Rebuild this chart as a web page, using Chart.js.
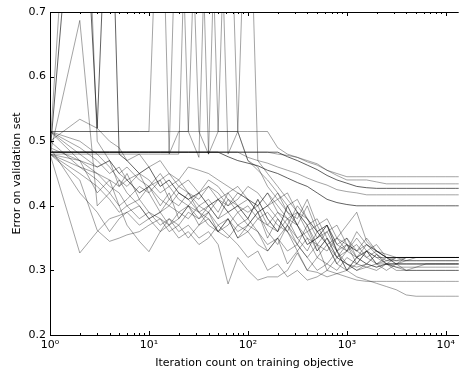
<!DOCTYPE html>
<html>
<head>
<meta charset="utf-8">
<script src="https://cdn.jsdelivr.net/npm/chart.js@4/dist/chart.umd.min.js"></script>
<style>
  body { margin: 0; background: #fff; }
  canvas { display: block; }
</style>
</head>
<body>
<canvas id="runs-chart" width="459" height="370"></canvas>
<script>
// iteration counts where every run was evaluated
const iterations = [1, 2, 3, 4, 5, 6, 8, 10, 13, 16,
  20, 25, 32, 40, 50, 63, 79, 100, 126, 158,
  200, 251, 316, 398, 501, 631, 794, 1000, 1259, 1585,
  1995, 2512, 3162, 3981, 5012, 6310, 7943, 10000, 12589, 15000];

// runs that stay high (plateau around 0.40 - 0.45)
const runHighA = [0.515, 0.515, 0.515, 0.515, 0.515, 0.515, 0.515, 0.515, 0.515, 0.515,
  0.515, 0.515, 0.515, 0.515, 0.515, 0.515, 0.515, 0.515, 0.515, 0.515,
  0.49, 0.48, 0.475, 0.47, 0.465, 0.455, 0.45, 0.445, 0.445, 0.445,
  0.445, 0.445, 0.445, 0.445, 0.445, 0.445, 0.445, 0.445, 0.445, 0.445];
const runHighB = [0.483, 0.483, 0.483, 0.483, 0.483, 0.483, 0.483, 0.483, 0.483, 0.483,
  0.483, 0.483, 0.483, 0.483, 0.483, 0.483, 0.483, 0.483, 0.483, 0.483,
  0.48, 0.478, 0.475, 0.468, 0.463, 0.455, 0.447, 0.44, 0.44, 0.44,
  0.437, 0.434, 0.434, 0.434, 0.434, 0.434, 0.434, 0.434, 0.434, 0.434];
const runHighC = [0.483, 0.483, 0.483, 0.483, 0.483, 0.483, 0.483, 0.483, 0.483, 0.483,
  0.483, 0.483, 0.483, 0.483, 0.483, 0.483, 0.483, 0.483, 0.483, 0.483,
  0.483, 0.476, 0.47, 0.463, 0.456, 0.447, 0.44, 0.435, 0.43, 0.428,
  0.427, 0.427, 0.427, 0.427, 0.427, 0.427, 0.427, 0.427, 0.427, 0.427];
const runHighD = [0.483, 0.483, 0.483, 0.483, 0.483, 0.483, 0.483, 0.483, 0.483, 0.483,
  0.483, 0.483, 0.483, 0.483, 0.483, 0.483, 0.483, 0.475, 0.47, 0.466,
  0.46, 0.455, 0.45, 0.443, 0.437, 0.432, 0.425, 0.422, 0.42, 0.417,
  0.417, 0.417, 0.417, 0.417, 0.417, 0.417, 0.417, 0.417, 0.417, 0.417];
const runHighE = [0.483, 0.483, 0.483, 0.483, 0.483, 0.483, 0.483, 0.483, 0.483, 0.483,
  0.483, 0.483, 0.483, 0.483, 0.483, 0.476, 0.47, 0.466, 0.462, 0.455,
  0.45, 0.443, 0.436, 0.43, 0.42, 0.41, 0.405, 0.402, 0.40, 0.40,
  0.40, 0.40, 0.40, 0.40, 0.40, 0.40, 0.40, 0.40, 0.40, 0.40];

// runs with early blow-ups above the plotted range
const runSpikeA = [0.49, 1.2, 0.50, 0.47, 0.45, 0.44, 0.42, 0.43, 0.41, 0.40,
  0.39, 0.40, 0.38, 0.39, 0.37, 0.38, 0.36, 0.37, 0.39, 0.36,
  0.34, 0.37, 0.35, 0.33, 0.36, 0.34, 0.31, 0.33, 0.32, 0.34,
  0.325, 0.315, 0.32, 0.32, 0.32, 0.32, 0.32, 0.32, 0.32, 0.32];
const runSpikeB = [0.48, 1.03, 0.52, 1.0, 0.48, 0.47, 0.45, 0.46, 0.43, 0.44,
  0.42, 0.41, 0.42, 0.40, 0.41, 0.39, 0.40, 0.38, 0.41, 0.38,
  0.36, 0.40, 0.37, 0.34, 0.35, 0.37, 0.33, 0.30, 0.32, 0.31,
  0.325, 0.31, 0.31, 0.31, 0.31, 0.31, 0.31, 0.31, 0.31, 0.31];
const runSpikeC = [0.515, 0.515, 0.515, 0.515, 0.515, 0.515, 0.515, 0.515, 1.0, 0.48,
  0.515, 0.515, 0.475, 1.0, 0.515, 0.515, 0.515, 0.47, 0.46, 0.43,
  0.41, 0.42, 0.39, 0.37, 0.38, 0.35, 0.33, 0.34, 0.32, 0.33,
  0.32, 0.32, 0.32, 0.32, 0.32, 0.32, 0.32, 0.32, 0.32, 0.32];
const runSpikeD = [0.483, 0.483, 0.483, 0.483, 0.483, 0.483, 0.483, 0.483, 0.483, 0.483,
  1.0, 0.515, 1.0, 0.48, 0.515, 1.0, 0.515, 0.47, 0.455, 0.44,
  0.42, 0.40, 0.41, 0.38, 0.36, 0.34, 0.35, 0.33, 0.34, 0.32,
  0.31, 0.315, 0.315, 0.315, 0.315, 0.315, 0.315, 0.315, 0.315, 0.315];
const runSpikeE = [0.48, 0.48, 0.48, 0.48, 0.48, 0.48, 0.48, 0.48, 0.48, 0.48,
  0.48, 1.0, 0.515, 0.48, 1.0, 0.48, 0.515, 1.0, 0.47, 0.45,
  0.43, 0.41, 0.39, 0.36, 0.37, 0.34, 0.32, 0.33, 0.35, 0.33,
  0.31, 0.32, 0.32, 0.32, 0.32, 0.32, 0.32, 0.32, 0.32, 0.32];

// runs that settle near 0.26 - 0.33
const runLowA = [0.48, 0.327, 0.36, 0.38, 0.385, 0.39, 0.40, 0.38, 0.39, 0.41,
  0.40, 0.42, 0.39, 0.40, 0.38, 0.41, 0.39, 0.37, 0.39, 0.35,
  0.38, 0.36, 0.34, 0.37, 0.33, 0.35, 0.32, 0.34, 0.31, 0.33,
  0.32, 0.31, 0.32, 0.32, 0.32, 0.32, 0.32, 0.32, 0.32, 0.32];
const runLowB = [0.48, 0.687, 0.40, 0.42, 0.44, 0.43, 0.45, 0.44, 0.42, 0.43,
  0.41, 0.40, 0.42, 0.44, 0.43, 0.41, 0.40, 0.39, 0.40, 0.37,
  0.39, 0.38, 0.35, 0.36, 0.33, 0.35, 0.32, 0.31, 0.30, 0.305,
  0.30, 0.31, 0.30, 0.30, 0.30, 0.30, 0.30, 0.30, 0.30, 0.30];
const runLowC = [0.50, 0.534, 0.52, 0.50, 0.49, 0.47, 0.48, 0.46, 0.47, 0.45,
  0.43, 0.44, 0.42, 0.43, 0.41, 0.42, 0.40, 0.41, 0.39, 0.40,
  0.42, 0.39, 0.37, 0.40, 0.36, 0.37, 0.34, 0.33, 0.36, 0.34,
  0.33, 0.32, 0.32, 0.32, 0.32, 0.32, 0.32, 0.32, 0.32, 0.32];
const runLowD = [0.515, 0.47, 0.42, 0.44, 0.40, 0.41, 0.43, 0.42, 0.39, 0.37,
  0.38, 0.40, 0.39, 0.37, 0.36, 0.38, 0.35, 0.36, 0.34, 0.33,
  0.35, 0.31, 0.33, 0.30, 0.32, 0.34, 0.31, 0.30, 0.31, 0.305,
  0.31, 0.31, 0.31, 0.31, 0.31, 0.31, 0.31, 0.31, 0.31, 0.31];
const runLowE = [0.48, 0.44, 0.362, 0.345, 0.35, 0.355, 0.36, 0.37, 0.38, 0.37,
  0.39, 0.38, 0.40, 0.39, 0.41, 0.40, 0.42, 0.41, 0.39, 0.40,
  0.38, 0.36, 0.39, 0.38, 0.35, 0.36, 0.37, 0.34, 0.33, 0.35,
  0.33, 0.32, 0.315, 0.32, 0.32, 0.32, 0.32, 0.32, 0.32, 0.32];
const runLowF = [0.49, 0.42, 0.39, 0.36, 0.38, 0.39, 0.37, 0.38, 0.36, 0.37,
  0.35, 0.36, 0.34, 0.35, 0.37, 0.355, 0.34, 0.32, 0.33, 0.30,
  0.31, 0.29, 0.30, 0.285, 0.29, 0.30, 0.295, 0.30, 0.29, 0.285,
  0.28, 0.275, 0.27, 0.262, 0.26, 0.26, 0.26, 0.26, 0.26, 0.26];
const runLowG = [0.48, 0.45, 0.43, 0.41, 0.39, 0.40, 0.38, 0.39, 0.37, 0.38,
  0.36, 0.37, 0.35, 0.36, 0.34, 0.279, 0.32, 0.30, 0.285, 0.29,
  0.29, 0.30, 0.327, 0.30, 0.297, 0.29, 0.295, 0.29, 0.285, 0.283,
  0.283, 0.283, 0.283, 0.283, 0.283, 0.283, 0.283, 0.283, 0.283, 0.283];
const runLowH = [0.50, 0.46, 0.44, 0.42, 0.40, 0.37, 0.345, 0.329, 0.36, 0.38,
  0.37, 0.39, 0.38, 0.40, 0.38, 0.39, 0.37, 0.38, 0.36, 0.33,
  0.35, 0.37, 0.34, 0.32, 0.34, 0.30, 0.32, 0.31, 0.305, 0.31,
  0.305, 0.31, 0.305, 0.305, 0.305, 0.305, 0.305, 0.305, 0.305, 0.305];
const runLowI = [0.515, 0.49, 0.47, 0.45, 0.46, 0.44, 0.45, 0.42, 0.44, 0.41,
  0.43, 0.42, 0.40, 0.41, 0.39, 0.42, 0.43, 0.41, 0.40, 0.42,
  0.39, 0.37, 0.40, 0.38, 0.36, 0.37, 0.34, 0.35, 0.32, 0.33,
  0.34, 0.32, 0.32, 0.315, 0.315, 0.315, 0.315, 0.315, 0.315, 0.315];
const runLowJ = [0.48, 0.47, 0.46, 0.47, 0.45, 0.46, 0.44, 0.43, 0.45, 0.43,
  0.44, 0.42, 0.41, 0.43, 0.42, 0.40, 0.41, 0.43, 0.42, 0.40,
  0.41, 0.39, 0.38, 0.41, 0.37, 0.38, 0.35, 0.34, 0.33, 0.34,
  0.33, 0.325, 0.32, 0.32, 0.32, 0.32, 0.32, 0.32, 0.32, 0.32];
const runLowK = [0.515, 0.50, 0.48, 0.46, 0.44, 0.42, 0.40, 0.38, 0.39, 0.40,
  0.42, 0.41, 0.39, 0.38, 0.36, 0.37, 0.39, 0.40, 0.38, 0.37,
  0.36, 0.38, 0.37, 0.35, 0.34, 0.33, 0.35, 0.37, 0.39, 0.345,
  0.33, 0.32, 0.31, 0.315, 0.32, 0.32, 0.32, 0.32, 0.32, 0.32];
const runLowL = [0.48, 0.46, 0.45, 0.44, 0.43, 0.44, 0.42, 0.43, 0.44, 0.45,
  0.44, 0.46, 0.455, 0.45, 0.44, 0.43, 0.42, 0.41, 0.40, 0.42,
  0.40, 0.38, 0.39, 0.37, 0.34, 0.36, 0.33, 0.35, 0.33, 0.32,
  0.33, 0.32, 0.31, 0.30, 0.305, 0.31, 0.31, 0.31, 0.31, 0.31];
const runLowM = [0.515, 0.48, 0.46, 0.47, 0.43, 0.45, 0.41, 0.43, 0.40, 0.42,
  0.38, 0.40, 0.37, 0.39, 0.36, 0.38, 0.35, 0.37, 0.36, 0.34,
  0.35, 0.33, 0.34, 0.32, 0.30, 0.31, 0.33, 0.31, 0.30, 0.31,
  0.305, 0.31, 0.305, 0.30, 0.30, 0.30, 0.30, 0.30, 0.30, 0.30];
const runLowN = [0.49, 0.47, 0.45, 0.43, 0.42, 0.40, 0.41, 0.39, 0.38, 0.36,
  0.37, 0.35, 0.37, 0.38, 0.36, 0.35, 0.37, 0.36, 0.38, 0.39,
  0.37, 0.36, 0.33, 0.35, 0.32, 0.31, 0.30, 0.32, 0.31, 0.33,
  0.31, 0.30, 0.31, 0.32, 0.32, 0.32, 0.32, 0.32, 0.32, 0.32];

// the darker runs are drawn a bit more opaque
const darkRuns = [runHighC, runHighE, runSpikeB];
const runs = [runHighA, runHighB, runHighC, runHighD, runHighE,
  runSpikeA, runSpikeB, runSpikeC, runSpikeD, runSpikeE,
  runLowA, runLowB, runLowC, runLowD, runLowE, runLowF, runLowG,
  runLowH, runLowI, runLowJ, runLowK, runLowL, runLowM, runLowN];

const yTicks = [0.2, 0.3, 0.4, 0.5, 0.6, 0.7];
const xTicks = [1, 10, 100, 1000, 10000];
const xTickLabels = ['10⁰', '10¹', '10²', '10³', '10⁴'];

Chart.defaults.font.family = '"DejaVu Sans", sans-serif';
Chart.defaults.font.size = 11;
Chart.defaults.color = '#000';

// matplotlib-style ticks pointing into the plot, plus the top spine
const innerTicks = {
  id: 'innerTicks',
  afterDatasetsDraw(chart) {
    const {ctx, chartArea: a, scales: {x, y}} = chart;
    ctx.save();
    ctx.strokeStyle = '#000';
    ctx.lineWidth = 1;
    ctx.beginPath();
    ctx.moveTo(a.left, a.top + 0.5);
    ctx.lineTo(a.right, a.top + 0.5);
    yTicks.forEach(v => {
      const py = Math.round(y.getPixelForValue(v)) + 0.5;
      ctx.moveTo(a.left, py);
      ctx.lineTo(a.left + 4, py);
    });
    for (let d = 1; d <= 10000; d *= 10) {
      for (let k = 1; k < 10; k++) {
        const v = k * d;
        if (v > x.max) break;
        const px = Math.round(x.getPixelForValue(v)) + 0.5;
        const len = k === 1 ? 4 : 2;
        ctx.moveTo(px, a.bottom);
        ctx.lineTo(px, a.bottom - len);
        ctx.moveTo(px, a.top);
        ctx.lineTo(px, a.top + len);
      }
    }
    ctx.stroke();
    ctx.restore();
  }
};

new Chart(document.getElementById('runs-chart'), {
  type: 'line',
  data: {
    labels: iterations,
    datasets: runs.map(r => ({
      data: r,
      borderColor: darkRuns.includes(r) ? 'rgba(0,0,0,0.62)' : 'rgba(0,0,0,0.36)',
      borderWidth: 1,
      pointRadius: 0,
      tension: 0
    }))
  },
  options: {
    responsive: false,
    animation: false,
    layout: { padding: { top: 12, right: 0, left: 0, bottom: 0 } },
    plugins: { legend: { display: false }, tooltip: { enabled: false } },
    scales: {
      x: {
        type: 'logarithmic',
        min: 1,
        max: 13500,
        afterBuildTicks: s => { s.ticks = xTicks.map(v => ({ value: v })); },
        afterFit: s => { s.height = 35; },
        grid: { display: false, drawTicks: false },
        border: { display: true, color: '#000', width: 1 },
        ticks: {
          autoSkip: false,
          maxRotation: 0,
          padding: 4,
          callback: (v, i) => xTickLabels[i]
        },
        title: { display: true, text: 'Iteration count on training objective', padding: { top: 0, bottom: 0 } }
      },
      y: {
        min: 0.2,
        max: 0.7,
        afterBuildTicks: s => { s.ticks = yTicks.map(v => ({ value: v })); },
        afterFit: s => { s.width = 50; },
        grid: { display: false, drawTicks: false },
        border: { display: true, color: '#000', width: 1 },
        ticks: { padding: 4, callback: v => v.toFixed(1) },
        title: { display: true, text: 'Error on validation set', padding: { top: 11, bottom: 0 } }
      }
    }
  },
  plugins: [innerTicks]
});
</script>
</body>
</html>
